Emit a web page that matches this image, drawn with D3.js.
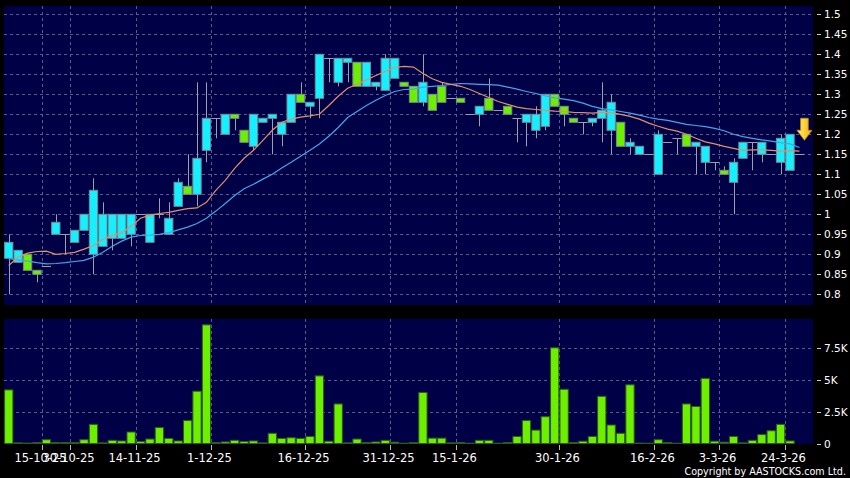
<!DOCTYPE html>
<html><head><meta charset="utf-8">
<script src="https://cdn.jsdelivr.net/npm/d3@7"></script>
<style>html,body{margin:0;padding:0;background:#000;}svg{display:block;}</style>
</head><body>
<script>
// ---- data ----
const openP  = [0.89,0.88,0.90,0.86,0.87,0.95,0.95,0.93,0.96,0.90,0.92,0.94,0.94,0.95,1.00,0.93,1.00,0.95,1.02,1.07,1.05,1.16,1.24,1.20,1.25,1.21,1.17,1.23,1.24,1.20,1.23,1.30,1.27,1.29,1.39,1.33,1.38,1.38,1.32,1.32,1.31,1.34,1.33,1.32,1.28,1.30,1.32,1.29,1.29,1.25,1.25,1.29,1.26,1.27,1.24,1.23,1.21,1.22,1.30,1.27,1.24,1.23,1.23,1.24,1.21,1.23,1.17,1.15,1.15,1.10,1.18,1.19,1.20,1.17,1.13,1.13,1.11,1.08,1.14,1.18,1.15,1.15,1.13,1.11,1.15];
const highP  = [0.95,0.91,0.90,0.86,0.87,1.00,0.95,0.96,1.00,1.09,1.03,1.00,1.00,1.00,1.00,1.00,1.04,1.03,1.09,1.15,1.33,1.33,1.24,1.25,1.25,1.21,1.25,1.24,1.25,1.23,1.30,1.33,1.28,1.40,1.39,1.39,1.39,1.38,1.38,1.33,1.40,1.39,1.33,1.32,1.40,1.30,1.33,1.29,1.29,1.25,1.27,1.34,1.26,1.27,1.24,1.25,1.27,1.30,1.30,1.27,1.24,1.23,1.24,1.33,1.30,1.23,1.19,1.17,1.15,1.21,1.18,1.19,1.20,1.18,1.17,1.13,1.12,1.14,1.18,1.18,1.18,1.15,1.20,1.20,1.15];
const lowP   = [0.80,0.88,0.86,0.83,0.87,0.95,0.90,0.93,0.96,0.85,0.92,0.91,0.94,0.92,1.00,0.93,0.99,0.95,1.02,1.05,1.02,1.13,1.19,1.20,1.21,1.18,1.16,1.23,1.15,1.17,1.23,1.28,1.24,1.24,1.33,1.32,1.33,1.32,1.32,1.31,1.31,1.34,1.32,1.28,1.27,1.26,1.28,1.29,1.28,1.25,1.22,1.26,1.26,1.25,1.18,1.17,1.19,1.21,1.27,1.22,1.23,1.20,1.22,1.18,1.15,1.17,1.15,1.15,1.15,1.10,1.18,1.15,1.17,1.10,1.10,1.11,1.10,1.00,1.14,1.11,1.13,1.15,1.10,1.11,1.15];
const closeP = [0.93,0.91,0.86,0.85,0.87,0.98,0.95,0.96,1.00,1.06,1.00,1.00,1.00,1.00,1.00,1.00,1.00,0.99,1.08,1.05,1.14,1.24,1.24,1.25,1.24,1.18,1.25,1.24,1.25,1.23,1.30,1.28,1.28,1.40,1.39,1.39,1.39,1.32,1.38,1.33,1.39,1.39,1.32,1.28,1.33,1.26,1.28,1.29,1.28,1.25,1.27,1.26,1.26,1.25,1.24,1.25,1.25,1.30,1.27,1.25,1.23,1.23,1.24,1.26,1.28,1.17,1.18,1.17,1.15,1.20,1.18,1.19,1.17,1.18,1.17,1.13,1.10,1.13,1.18,1.18,1.18,1.15,1.19,1.20,1.15];
const volumeK = [4.2,0.05,0.03,0.08,0.3,0.08,0.08,0.08,0.3,1.5,0.05,0.25,0.2,0.9,0.15,0.35,1.25,0.4,0.2,1.8,4.1,9.3,0.08,0.12,0.25,0.15,0.2,0.05,0.8,0.4,0.45,0.4,0.55,5.3,0.18,3.1,0.05,0.35,0.08,0.12,0.25,0.1,0.02,0.08,4.0,0.42,0.42,0.05,0.08,0.02,0.25,0.25,0.02,0.08,0.55,1.8,1.05,2.1,7.5,4.25,0.08,0.18,0.55,3.7,1.45,0.8,4.6,0.03,0.02,0.3,0.08,0.02,3.1,2.9,5.1,0.18,0.1,0.55,0.05,0.25,0.7,1.0,1.5,0.2,0];
const maShort = [0.872,0.893,0.903,0.907,0.908,0.900,0.902,0.905,0.913,0.922,0.937,0.948,0.953,0.970,0.990,0.998,1.002,1.005,1.010,1.014,1.016,1.030,1.060,1.085,1.115,1.140,1.160,1.185,1.210,1.230,1.238,1.243,1.246,1.250,1.272,1.295,1.315,1.325,1.336,1.347,1.357,1.367,1.370,1.368,1.352,1.339,1.330,1.325,1.320,1.312,1.302,1.292,1.282,1.275,1.268,1.264,1.262,1.260,1.258,1.257,1.255,1.254,1.253,1.255,1.254,1.250,1.245,1.238,1.228,1.220,1.213,1.208,1.200,1.190,1.181,1.176,1.170,1.165,1.160,1.161,1.161,1.160,1.158,1.159,1.158];
const maLong  = [0.889,0.886,0.883,0.879,0.876,0.877,0.879,0.882,0.885,0.893,0.905,0.920,0.933,0.943,0.947,0.948,0.950,0.954,0.961,0.968,0.977,0.990,1.008,1.027,1.047,1.064,1.075,1.088,1.100,1.116,1.130,1.145,1.160,1.176,1.195,1.217,1.242,1.257,1.272,1.285,1.297,1.307,1.312,1.313,1.318,1.320,1.322,1.325,1.327,1.326,1.325,1.324,1.323,1.318,1.313,1.307,1.302,1.296,1.291,1.288,1.284,1.278,1.270,1.264,1.261,1.257,1.253,1.248,1.242,1.238,1.235,1.230,1.225,1.222,1.219,1.215,1.209,1.200,1.194,1.190,1.186,1.183,1.179,1.176,1.167];
const tickIndex  = [3,6,13,21,31,40,47,58,68,75,82];
const tickLabels = ["15-10-25","30-10-25","14-11-25","1-12-25","16-12-25","31-12-25","15-1-26","30-1-26","16-2-26","3-3-26","24-3-26"];
const priceTicks = [1.5,1.45,1.4,1.35,1.3,1.25,1.2,1.15,1.1,1.05,1,0.95,0.9,0.85,0.8];
const priceTickLabels = ["1.5","1.45","1.4","1.35","1.3","1.25","1.2","1.15","1.1","1.05","1","0.95","0.9","0.85","0.8"];
const volTicks = [7.5,5,2.5,0];
const volTickLabels = ["7.5K","5K","2.5K","0"];
const arrowLevel = 1.185;

// ---- layout ----
const W = 850, H = 478;
const plotL = 4, plotR = 813;
const pTop = 6, pBot = 305;
const vTop = 319, vBot = 444;
const N = closeP.length;

const svg = d3.select("body").append("svg").attr("width", W).attr("height", H)
  .style("font-family", "'DejaVu Sans', sans-serif");
svg.append("rect").attr("width", W).attr("height", H).attr("fill", "#000");

const x = d3.scaleLinear().domain([0, N - 1]).range([8.75, 8.75 + 9.413 * (N - 1)]);
const y = d3.scaleLinear().domain([0.8, 1.5]).range([294.3, 14.3]);
const yv = d3.scaleLinear().domain([0, 7.5]).range([443.5, 347.8]);
const bw = 8.3;

const bg = "#000046", gridC = "#5a5a90";
svg.append("rect").attr("x", plotL).attr("y", pTop).attr("width", plotR - plotL).attr("height", pBot - pTop).attr("fill", bg);
svg.append("rect").attr("x", plotL).attr("y", vTop).attr("width", plotR - plotL).attr("height", vBot - vTop).attr("fill", bg);

const grid = svg.append("g").attr("stroke", gridC).attr("stroke-width", 1).attr("stroke-dasharray", "3,3").attr("shape-rendering", "crispEdges");
grid.selectAll(".hp").data(priceTicks).join("line")
  .attr("x1", plotL).attr("x2", plotR).attr("y1", d => Math.round(y(d)) + 0.5).attr("y2", d => Math.round(y(d)) + 0.5);
grid.selectAll(".hv").data(volTicks.filter(d => d > 0)).join("line")
  .attr("x1", plotL).attr("x2", plotR).attr("y1", d => Math.round(yv(d)) + 0.5).attr("y2", d => Math.round(yv(d)) + 0.5);
tickIndex.forEach(i => {
  const gx = Math.round(x(i + 0.5)) + 0.5;
  grid.append("line").attr("x1", gx).attr("x2", gx).attr("y1", pTop).attr("y2", pBot);
  grid.append("line").attr("x1", gx).attr("x2", gx).attr("y1", vTop).attr("y2", vBot);
});

// ---- candles ----
const idx = d3.range(N);
const cg = svg.append("g");
cg.selectAll(".wick").data(idx.filter(i => highP[i] !== lowP[i])).join("line")
  .attr("x1", i => Math.round(x(i)) + 0.5).attr("x2", i => Math.round(x(i)) + 0.5)
  .attr("y1", i => y(highP[i])).attr("y2", i => y(lowP[i]))
  .attr("stroke", "#a0a0a8").attr("stroke-width", 1);
cg.selectAll(".body").data(idx.filter(i => openP[i] !== closeP[i])).join("rect")
  .attr("x", i => x(i) - bw / 2).attr("width", bw)
  .attr("y", i => y(Math.max(openP[i], closeP[i])))
  .attr("height", i => Math.abs(y(openP[i]) - y(closeP[i])))
  .attr("fill", i => closeP[i] > openP[i] ? "#14f0ff" : "#6cf000")
  .attr("stroke", "#7a8a90").attr("stroke-width", 1);
cg.selectAll(".flat").data(idx.filter(i => openP[i] === closeP[i])).join("line")
  .attr("x1", i => x(i) - 4.6).attr("x2", i => x(i) + 4.6)
  .attr("y1", i => Math.round(y(closeP[i])) + 0.5).attr("y2", i => Math.round(y(closeP[i])) + 0.5)
  .attr("stroke", "#a0a0a8").attr("stroke-width", 1);

// ---- moving averages ----
const line = arr => d3.line().x((d, i) => x(i)).y(d => y(d))(arr);
const clip = svg.append("clipPath").attr("id", "pc").append("rect")
  .attr("x", plotL).attr("y", pTop).attr("width", plotR - plotL).attr("height", pBot - pTop);
svg.append("path").attr("d", line(maLong)).attr("fill", "none").attr("stroke", "#44a6ea").attr("stroke-width", 1.2).attr("clip-path", "url(#pc)");
svg.append("path").attr("d", line(maShort)).attr("fill", "none").attr("stroke", "#e0906a").attr("stroke-width", 1.2).attr("clip-path", "url(#pc)");

// ---- arrow marker ----
const defs = svg.append("defs");
const grad = defs.append("linearGradient").attr("id", "ag").attr("x1", "0").attr("x2", "1").attr("y1", "0").attr("y2", "0");
grad.append("stop").attr("offset", "0").attr("stop-color", "#fff27a");
grad.append("stop").attr("offset", "1").attr("stop-color", "#f0b000");
const ax = x(N - 1) + 5, ay = y(arrowLevel);
svg.append("path")
  .attr("d", `M${ax - 3.8},${ay - 22} L${ax + 3.8},${ay - 22} L${ax + 3.8},${ay - 10} L${ax + 7.5},${ay - 10} L${ax},${ay} L${ax - 7.5},${ay - 10} L${ax - 3.8},${ay - 10} Z`)
  .attr("fill", "url(#ag)").attr("stroke", "#c88a00").attr("stroke-width", 0.8);

// ---- volume ----
svg.append("g").selectAll("rect").data(idx.filter(i => volumeK[i] > 0)).join("rect")
  .attr("x", i => x(i) - bw / 2).attr("width", bw)
  .attr("y", i => yv(volumeK[i])).attr("height", i => yv(0) - yv(volumeK[i]))
  .attr("fill", "#6cf000").attr("stroke", "#2f5a1a").attr("stroke-width", 1);

// ---- axes text ----
const ax1 = svg.append("g").attr("fill", "#fff").attr("font-size", "10.5px");
priceTicks.forEach((d, k) => {
  svg.append("line").attr("x1", 817).attr("x2", 821).attr("y1", Math.round(y(d)) + 0.5).attr("y2", Math.round(y(d)) + 0.5).attr("stroke", "#ccc");
  ax1.append("text").attr("x", 824).attr("y", y(d) + 4).text(priceTickLabels[k]);
});
volTicks.forEach((d, k) => {
  svg.append("line").attr("x1", 817).attr("x2", 821).attr("y1", Math.round(yv(d)) + 0.5).attr("y2", Math.round(yv(d)) + 0.5).attr("stroke", "#ccc");
  ax1.append("text").attr("x", 824).attr("y", yv(d) + 4).text(volTickLabels[k]);
});
const xt = svg.append("g").attr("fill", "#fff").attr("font-size", "11.5px").attr("text-anchor", "middle");
tickIndex.forEach((i, k) => {
  const tx = Math.round(x(i + 0.5)) + 0.5;
  svg.append("line").attr("x1", tx).attr("x2", tx).attr("y1", vBot + 1).attr("y2", vBot + 6).attr("stroke", "#bbb");
  xt.append("text").attr("x", tx - 2).attr("y", 461.5).text(tickLabels[k]);
});
svg.append("text").attr("x", 846).attr("y", 475).attr("text-anchor", "end").attr("fill", "#fff")
  .attr("font-size", "9.6px").text("Copyright by AASTOCKS.com Ltd.");
</script>
</body></html>
